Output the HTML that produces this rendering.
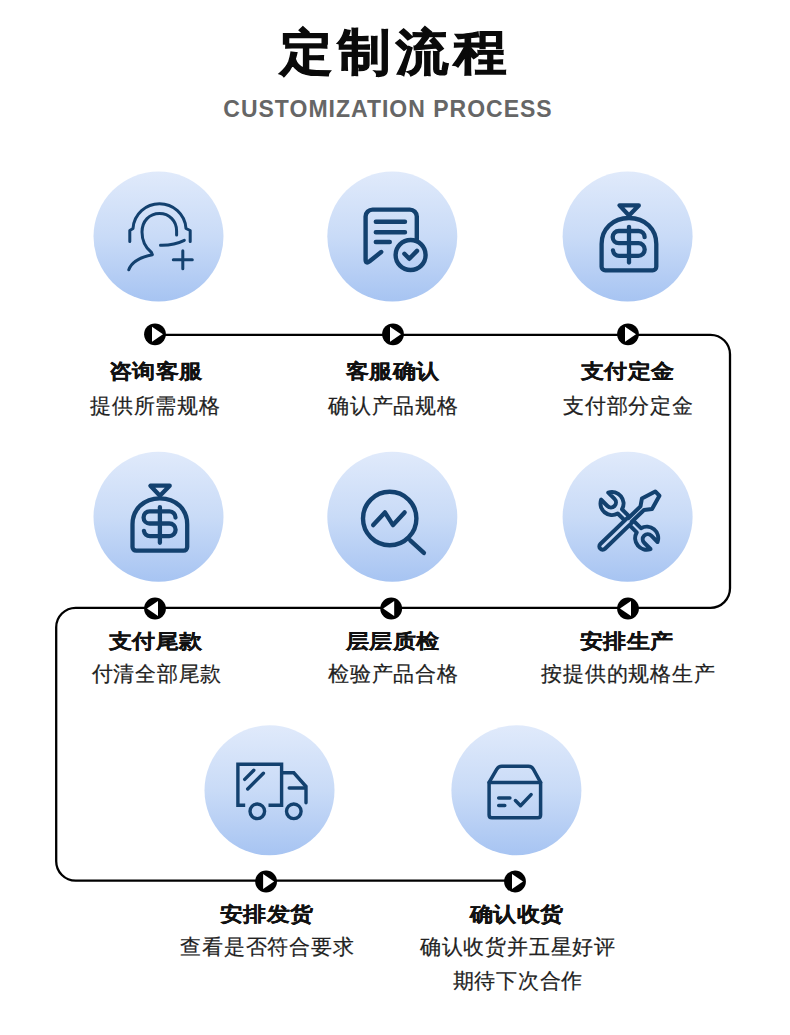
<!DOCTYPE html>
<html><head><meta charset="utf-8">
<style>
*{margin:0;padding:0;box-sizing:border-box}
html,body{width:790px;height:1035px;overflow:hidden;background:#fff}
body{position:relative;font-family:"Liberation Sans",sans-serif;color:#111}
.title{position:absolute;left:-2px;width:790px;top:14px;text-align:center;font-size:52px;font-weight:900;line-height:76px;color:#0a0a0a;-webkit-text-stroke:1.2px #0a0a0a;transform:scaleY(0.935)}
.title i+i{margin-left:6px}
.sub{position:absolute;left:-7px;width:790px;top:94.5px;text-align:center;font-size:23px;font-weight:700;line-height:28px;color:#666;letter-spacing:1px}
.t{position:absolute;width:240px;text-align:center;font-size:22.5px;font-weight:700;line-height:30px;color:#111;-webkit-text-stroke:0.25px #111;transform:scaleY(0.87)}
.t i+i{margin-left:1px}
.s{position:absolute;width:260px;text-align:center;font-size:21px;font-weight:400;line-height:32px;color:#222;-webkit-text-stroke:0.2px #222}
.s i+i{margin-left:0.8px}
svg.lines{position:absolute;left:0;top:0}
i{font-style:normal;display:inline-block;width:1em;text-align:center}
</style></head><body>
<div class="title"><i>定</i><i>制</i><i>流</i><i>程</i></div>
<div class="sub">CUSTOMIZATION PROCESS</div>

<svg class="lines" width="790" height="1035" viewBox="0 0 790 1035">
<defs>
<linearGradient id="g" x1="0" y1="0" x2="0" y2="1">
<stop offset="0" stop-color="#e0eafb"/>
<stop offset="0.5" stop-color="#c9dbf7"/>
<stop offset="1" stop-color="#a7c4f2"/>
</linearGradient>
</defs>
<g fill="url(#g)">
<circle cx="158.5" cy="236.5" r="65"/>
<circle cx="392.3" cy="236.5" r="65"/>
<circle cx="627.6" cy="236.5" r="65"/>
<circle cx="158.5" cy="516.8" r="65"/>
<circle cx="392.3" cy="516.8" r="65"/>
<circle cx="627.6" cy="516.8" r="65"/>
<circle cx="269.5" cy="790.3" r="65"/>
<circle cx="516.4" cy="790.3" r="65"/>
</g>

<g fill="none" stroke="#13416f" stroke-linecap="round" stroke-linejoin="round">
<!-- icon1 headset person -->
<g stroke-width="3">
<path d="M129.8,241.5 V230.5 L133,228.5 C134,214 146,203.8 159.5,203.8 C173,203.8 185,214 186,228.5 L190.2,230.5 V241.5"/>
<path d="M176.6,235 V231 C176.6,220.5 169,213.5 159.5,213.5 C149.5,213.5 142,221 142,232 C142,241.5 146.5,248.5 151.5,252.5 L152.4,254.7 C141,257 131.5,262 128.8,269.8"/>
<path d="M160.5,245.2 Q174,245.5 184.3,240.3"/>
<path d="M182.8,250.8 V268.8 M173.3,259.8 H192.3"/>
</g>
<!-- icon2 document check -->
<g stroke-width="4.4">
<path d="M416.8,239.5 V216.5 A7,7 0 0 0 409.8,209.6 H372.6 A7,7 0 0 0 365.6,216.6 V259.5 Q365.6,264.3 369.6,261.3 L381.2,252"/>
<path d="M375.8,221.8 H405 M375.8,232.2 H405 M375.8,242 H389.8"/>
<circle cx="410.6" cy="255" r="15"/>
<path d="M404.4,253.8 L409.3,258.8 L417,250.9"/>
</g>
<!-- icon3 money bag -->
<g id="bag" stroke-width="4.3">
<path d="M619.5,205.4 H638.8 L629,215.5 Z"/>
<path d="M601.6,266.7 V244 C601.6,229 613,218 629,218 C645,218 656.3,229 656.3,244 V266.7 A3.7,3.7 0 0 1 652.6,270.4 H605.3 A3.7,3.7 0 0 1 601.6,266.7 Z"/>
<path d="M629,226.8 V262.5"/>
<path d="M644.6,237.2 A6.1,6.1 0 0 0 638.6,231 H618.8 A6.1,6.1 0 0 0 618.8,243.2 H638.4 A6.3,6.3 0 0 1 638.4,255.8 H619 A6.1,6.1 0 0 1 613,250.5"/>
</g>
<use href="#bag" transform="translate(-469.1,280.3)"/>
<!-- icon5 magnifier -->
<g stroke-width="4.4">
<circle cx="389.7" cy="518.5" r="26.7"/>
<path d="M410.2,540.3 L423.9,552.9"/>
<path d="M373.2,525.1 L384.9,512.4 L393,525.1 L404.6,512.4"/>
</g>
<!-- icon6 tools -->
<g stroke-width="4">
<g transform="translate(629.35,520.85) rotate(45)">
<path d="M-13.4,-3 A11.5,11.5 0 0 0 -34.86,-5 L-26,-5 A5,5 0 0 1 -26,5 L-34.86,5 A11.5,11.5 0 0 0 -13.4,3 L13.4,3 A11.5,11.5 0 0 0 34.86,5 L26,5 A5,5 0 0 1 26,-5 L34.86,-5 A11.5,11.5 0 0 0 13.4,-3 Z"/>
</g>
<g transform="translate(630,520) rotate(-44)">
<path fill="#c9daf6" d="M-38,-3.3 H0 V-2.5 H17 L23.5,-7.2 L38,-3 V3 L23.5,7.4 L17,2.5 H0 V3.3 H-38 A3.3,3.3 0 0 1 -38,-3.3 Z"/>
</g>
</g>
<!-- icon7 truck -->
<g stroke-width="3.4" stroke-linejoin="miter" stroke-linecap="round">
<path d="M245.2,805.2 H237.9 V764.2 H281.6 V805.2 H268.5" stroke-linecap="butt"/>
<path d="M281.6,772.8 H293.8 L306,786.5 V802.7"/>
<path d="M289.2,788 H305"/>
<circle cx="257.3" cy="811.3" r="7.3"/>
<circle cx="293.8" cy="811.3" r="7.3"/>
<path d="M244.7,779.4 L253.8,770.3 M247.7,789 L263.4,773.3"/>
</g>
<!-- icon8 box -->
<g stroke-width="3.5">
<path d="M489.1,815 V782.4 L496.8,769.2 Q498.4,766.2 501.8,766.2 H528.4 Q531.8,766.2 533.4,769.2 L540.6,782.4 V815 Q540.6,817.8 537.8,817.8 H491.9 Q489.1,817.8 489.1,815 Z"/>
<path d="M489.1,782.4 H540.6"/>
<path d="M498.7,798.1 H509.9 M498.7,805.5 H504.8"/>
<path d="M515.4,800.6 L520.5,805.7 L531.1,794.6"/>
</g>
</g>

<path d="M155 334.8 H710.5 A19.5 19.5 0 0 1 730 354.3 V588.3 A19.5 19.5 0 0 1 710.5 607.8 H75.7 A19.5 19.5 0 0 0 56.2 627.3 V861.2 A19.5 19.5 0 0 0 75.7 880.7 H515" fill="none" stroke="#000" stroke-width="2.3"/>
<g fill="#000">
<circle cx="155" cy="334.3" r="10.9"/><circle cx="393" cy="334.3" r="10.9"/><circle cx="628" cy="334.3" r="10.9"/>
<circle cx="155" cy="608.5" r="10.9"/><circle cx="391.2" cy="608.5" r="10.9"/><circle cx="628" cy="608.5" r="10.9"/>
<circle cx="266.1" cy="881.5" r="10.9"/><circle cx="515" cy="881.5" r="10.9"/>
</g>
<g fill="#fff">
<path d="M152 326.8 L163 334.3 L152 341.8Z"/>
<path d="M390 326.8 L401 334.3 L390 341.8Z"/>
<path d="M625 326.8 L636 334.3 L625 341.8Z"/>
<path d="M158 601 L147 608.5 L158 616Z"/>
<path d="M394.2 601 L383.2 608.5 L394.2 616Z"/>
<path d="M631 601 L620 608.5 L631 616Z"/>
<path d="M263.1 874 L274.1 881.5 L263.1 889Z"/>
<path d="M512 874 L523 881.5 L512 889Z"/>
</g>
</svg>

<div class="t" style="left:35.3px;top:357px"><i>咨</i><i>询</i><i>客</i><i>服</i></div>
<div class="s" style="left:25px;top:390px"><i>提</i><i>供</i><i>所</i><i>需</i><i>规</i><i>格</i></div>
<div class="t" style="left:272.3px;top:357px"><i>客</i><i>服</i><i>确</i><i>认</i></div>
<div class="s" style="left:263px;top:390px"><i>确</i><i>认</i><i>产</i><i>品</i><i>规</i><i>格</i></div>
<div class="t" style="left:507.3px;top:357px"><i>支</i><i>付</i><i>定</i><i>金</i></div>
<div class="s" style="left:498px;top:390px"><i>支</i><i>付</i><i>部</i><i>分</i><i>定</i><i>金</i></div>

<div class="t" style="left:35.3px;top:627px"><i>支</i><i>付</i><i>尾</i><i>款</i></div>
<div class="s" style="left:26.5px;top:658px"><i>付</i><i>清</i><i>全</i><i>部</i><i>尾</i><i>款</i></div>
<div class="t" style="left:272.3px;top:627px"><i>层</i><i>层</i><i>质</i><i>检</i></div>
<div class="s" style="left:263px;top:658px"><i>检</i><i>验</i><i>产</i><i>品</i><i>合</i><i>格</i></div>
<div class="t" style="left:506.3px;top:627px"><i>安</i><i>排</i><i>生</i><i>产</i></div>
<div class="s" style="left:498px;top:658px"><i>按</i><i>提</i><i>供</i><i>的</i><i>规</i><i>格</i><i>生</i><i>产</i></div>

<div class="t" style="left:146.3px;top:900px"><i>安</i><i>排</i><i>发</i><i>货</i></div>
<div class="s" style="left:137px;top:930.5px"><i>查</i><i>看</i><i>是</i><i>否</i><i>符</i><i>合</i><i>要</i><i>求</i></div>
<div class="t" style="left:396.3px;top:900px"><i>确</i><i>认</i><i>收</i><i>货</i></div>
<div class="s" style="left:387.5px;top:930px;line-height:33.5px"><i>确</i><i>认</i><i>收</i><i>货</i><i>并</i><i>五</i><i>星</i><i>好</i><i>评</i><br><i>期</i><i>待</i><i>下</i><i>次</i><i>合</i><i>作</i></div>
</body></html>
